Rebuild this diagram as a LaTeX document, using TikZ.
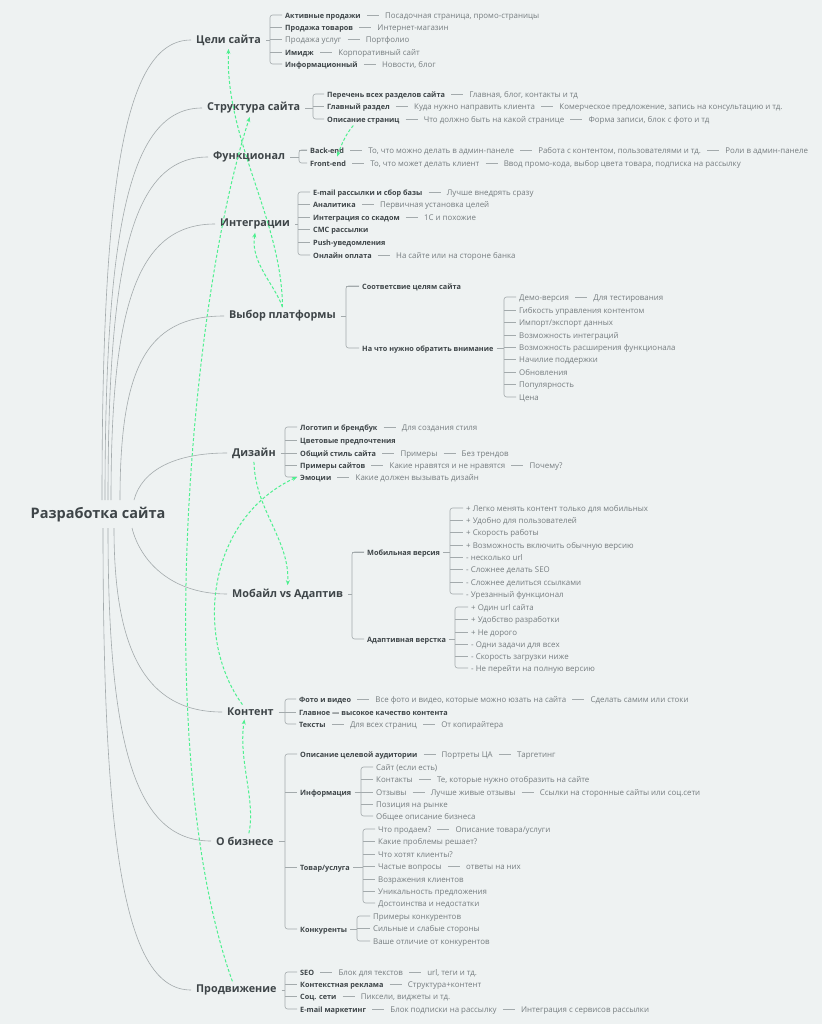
\documentclass[tikz,border=0pt]{standalone}
\usepackage{fontspec}
\setmainfont{Open Sans}
\usetikzlibrary{positioning,arrows.meta}

\definecolor{ink}{HTML}{3E4548}
\definecolor{soft}{HTML}{767D80}
\definecolor{wire}{HTML}{A3AAAC}
\definecolor{mint}{HTML}{4DF08F}
\definecolor{paper}{HTML}{EEF2F2}

\tikzset{
  root/.style={font=\bfseries\fontsize{14.5}{16}\selectfont, text=ink, inner sep=2pt},
  branch/.style={font=\bfseries\fontsize{10.8}{13}\selectfont, text=ink, inner xsep=5pt, anchor=west},
  item/.style={font=\bfseries\fontsize{7.3}{9}\selectfont, text=ink, inner xsep=3pt, inner ysep=1pt,
    text height=1.6ex, text depth=.4ex, anchor=west},
  leaf/.style={item, font=\fontsize{7.9}{9}\selectfont, text=soft},
  link/.style={draw=wire, line width=.6pt},
  sepline/.style={link, shorten <=3pt, shorten >=3pt},
  hint/.style={draw=mint, line width=1pt, dash pattern=on 3pt off 2pt, -{Stealth[length=5pt,width=4pt]}},
}

% parent, fork x, first child, last child, middle children
\newcommand\mmfork[5]{%
  \coordinate (f-#1) at (#2,0);
  \draw[link] (#1.east) -- (#1.east -| f-#1);
  \draw[link,rounded corners=2.5pt] (#3.west) -| (f-#1 |- #1.east) |- (#4.west);
  \foreach \m in {#5} {\draw[link] (f-#1 |- \m.west) -- (\m.west);}
}

\begin{document}
\begin{tikzpicture}[x=1pt, y=-1pt, node distance=18pt]
\useasboundingbox (0,0) rectangle (822,1024);
\fill[paper] (0,0) rectangle (822,1024);

% root and main branches
\node[root] (root) at (98,515) {Разработка сайта};
\node[branch] (b1) at (191,40) {Цели сайта};
\node[branch] (b2) at (202,108) {Структура сайта};
\node[branch] (b3) at (208,157) {Функционал};
\node[branch] (b4) at (215,224) {Интеграции};
\node[branch] (b5) at (224,316) {Выбор платформы};
\node[branch] (b6) at (227,453) {Дизайн};
\node[branch] (b7) at (227,594) {Мобайл vs Адаптив};
\node[branch] (b8) at (222,712) {Контент};
\node[branch] (b9) at (211,841) {О бизнесе};
\node[branch] (b10) at (191,990) {Продвижение};

\draw[link] (102,500) .. controls (102,178) and (125,40) .. (b1.west);
\draw[link] (105,500) .. controls (105,225) and (130,108) .. (b2.west);
\draw[link] (108,500) .. controls (108,260) and (132,157) .. (b3.west);
\draw[link] (111,500) .. controls (111,310) and (135,224) .. (b4.west);
\draw[link] (120,500) .. controls (120,370) and (145,316) .. (b5.west);
\draw[link] (134,500) .. controls (142,470) and (175,453) .. (b6.west);
\draw[link] (132,528) .. controls (140,560) and (170,594) .. (b7.west);
\draw[link] (114,528) .. controls (114,640) and (140,712) .. (b8.west);
\draw[link] (108,528) .. controls (108,745) and (135,841) .. (b9.west);
\draw[link] (103,528) .. controls (103,850) and (125,990) .. (b10.west);

% Цели сайта
\node[item] (c1) at (282,15) {Активные продажи};
\node[leaf, right=of c1] (c1a) {Посадочная страница, промо-страницы};
\node[item] (c2) at (282,27) {Продажа товаров};
\node[leaf, right=of c2] (c2a) {Интернет-магазин};
\node[leaf] (c3) at (282,39) {Продажа услуг};
\node[leaf, right=of c3] (c3a) {Портфолио};
\node[item] (c4) at (282,52) {Имидж};
\node[leaf, right=of c4] (c4a) {Корпоративный сайт};
\node[item] (c5) at (282,64) {Информационный};
\node[leaf, right=of c5] (c5a) {Новости, блог};
\draw[sepline] (c1) -- (c1a); \draw[sepline] (c2) -- (c2a); \draw[sepline] (c3) -- (c3a);
\draw[sepline] (c4) -- (c4a); \draw[sepline] (c5) -- (c5a);
\mmfork{b1}{270}{c1}{c5}{c2,c3,c4}

% Структура сайта
\node[item] (s1) at (324,94) {Перечень всех разделов сайта};
\node[leaf, right=of s1] (s1a) {Главная, блог, контакты и тд};
\node[item] (s2) at (324,106) {Главный раздел};
\node[leaf, right=of s2] (s2a) {Куда нужно направить клиента};
\node[leaf, right=of s2a] (s2b) {Комерческое предложение, запись на консультацию и тд.};
\node[item] (s3) at (324,119) {Описание страниц};
\node[leaf, right=of s3] (s3a) {Что должно быть на какой странице};
\node[leaf, right=of s3a] (s3b) {Форма записи, блок с фото и тд};
\draw[sepline] (s1) -- (s1a); \draw[sepline] (s2) -- (s2a); \draw[sepline] (s2a) -- (s2b);
\draw[sepline] (s3) -- (s3a); \draw[sepline] (s3a) -- (s3b);
\mmfork{b2}{313}{s1}{s3}{s2}

% Функционал
\node[item] (f1) at (307,150) {Back-end};
\node[leaf, right=of f1] (f1a) {То, что можно делать в админ-панеле};
\node[leaf, right=of f1a] (f1b) {Работа с контентом, пользователями и тд.};
\node[leaf, right=of f1b] (f1c) {Роли в админ-панеле};
\node[item] (f2) at (307,163) {Front-end};
\node[leaf, right=of f2] (f2a) {То, что может делать клиент};
\node[leaf, right=of f2a] (f2b) {Ввод промо-кода, выбор цвета товара, подписка на рассылку};
\draw[sepline] (f1) -- (f1a); \draw[sepline] (f1a) -- (f1b); \draw[sepline] (f1b) -- (f1c);
\draw[sepline] (f2) -- (f2a); \draw[sepline] (f2a) -- (f2b);
\mmfork{b3}{299}{f1}{f2}{f1}

% Интеграции
\node[item] (i1) at (310,192) {E-mail рассылки и сбор базы};
\node[leaf, right=of i1] (i1a) {Лучше внедрять сразу};
\node[item] (i2) at (310,204) {Аналитика};
\node[leaf, right=of i2] (i2a) {Первичная установка целей};
\node[item] (i3) at (310,217) {Интеграция со скадом};
\node[leaf, right=of i3] (i3a) {1С и похожие};
\node[item] (i4) at (310,229) {СМС рассылки};
\node[item] (i5) at (310,242) {Push-уведомления};
\node[item] (i6) at (310,255) {Онлайн оплата};
\node[leaf, right=of i6] (i6a) {На сайте или на стороне банка};
\draw[sepline] (i1) -- (i1a); \draw[sepline] (i2) -- (i2a); \draw[sepline] (i3) -- (i3a);
\draw[sepline] (i6) -- (i6a);
\mmfork{b4}{298}{i1}{i6}{i2,i3,i4,i5}

% Выбор платформы
\node[item] (p1) at (359,286) {Соответсвие целям сайта};
\node[item] (p2) at (359,348) {На что нужно обратить внимание};
\mmfork{b5}{346}{p1}{p2}{p1}
\node[leaf] (q1) at (516,297) {Демо-версия};
\node[leaf, right=of q1] (q1a) {Для тестирования};
\draw[sepline] (q1) -- (q1a);
\node[leaf] (q2) at (516,310) {Гибкость управления контентом};
\node[leaf] (q3) at (516,322) {Импорт/экспорт данных};
\node[leaf] (q4) at (516,335) {Возможность интеграций};
\node[leaf] (q5) at (516,347) {Возможность расширения функционала};
\node[leaf] (q6) at (516,359) {Начилие поддержки};
\node[leaf] (q7) at (516,372) {Обновления};
\node[leaf] (q8) at (516,384) {Популярность};
\node[leaf] (q9) at (516,397) {Цена};
\mmfork{p2}{504}{q1}{q9}{q2,q3,q4,q5,q6,q7,q8}

% Дизайн
\node[item] (d1) at (297,427) {Логотип и брендбук};
\node[leaf, right=of d1] (d1a) {Для создания стиля};
\node[item] (d2) at (297,440) {Цветовые предпочтения};
\node[item] (d3) at (297,453) {Общий стиль сайта};
\node[leaf, right=of d3] (d3a) {Примеры};
\node[leaf, right=of d3a] (d3b) {Без трендов};
\node[item] (d4) at (297,465) {Примеры сайтов};
\node[leaf, right=of d4] (d4a) {Какие нравятся и не нравятся};
\node[leaf, right=of d4a] (d4b) {Почему?};
\node[item] (d5) at (297,477) {Эмоции};
\node[leaf, right=of d5] (d5a) {Какие должен вызывать дизайн};
\draw[sepline] (d1) -- (d1a); \draw[sepline] (d3) -- (d3a); \draw[sepline] (d3a) -- (d3b);
\draw[sepline] (d4) -- (d4a); \draw[sepline] (d4a) -- (d4b); \draw[sepline] (d5) -- (d5a);
\mmfork{b6}{285}{d1}{d5}{d2,d3,d4}

% Мобайл vs Адаптив
\node[item] (m1) at (364,552) {Мобильная версия};
\node[item] (m2) at (364,639) {Адаптивная верстка};
\mmfork{b7}{352}{m1}{m2}{m1}
\node[leaf] (mm1) at (463,508) {+ Легко менять контент только для мобильных};
\node[leaf] (mm2) at (463,520) {+ Удобно для пользователей};
\node[leaf] (mm3) at (463,532) {+ Скорость работы};
\node[leaf] (mm4) at (463,545) {+ Возможность включить обычную версию};
\node[leaf] (mm5) at (463,557) {- несколько url};
\node[leaf] (mm6) at (463,569) {- Сложнее делать SEO};
\node[leaf] (mm7) at (463,582) {- Сложнее делиться ссылками};
\node[leaf] (mm8) at (463,594) {- Урезанный функционал};
\mmfork{m1}{450}{mm1}{mm8}{mm2,mm3,mm4,mm5,mm6,mm7}
\node[leaf] (ma1) at (468,607) {+ Один url сайта};
\node[leaf] (ma2) at (468,619) {+ Удобство разработки};
\node[leaf] (ma3) at (468,632) {+ Не дорого};
\node[leaf] (ma4) at (468,644) {- Одни задачи для всех};
\node[leaf] (ma5) at (468,656) {- Скорость загрузки ниже};
\node[leaf] (ma6) at (468,668) {- Не перейти на полную версию};
\mmfork{m2}{455}{ma1}{ma6}{ma2,ma3,ma4,ma5}

% Контент
\node[item] (k1) at (296,699) {Фото и видео};
\node[leaf, right=of k1] (k1a) {Все фото и видео, которые можно юзать на сайта};
\node[leaf, right=of k1a] (k1b) {Сделать самим или стоки};
\node[item] (k2) at (296,712) {Главное — высокое качество контента};
\node[item] (k3) at (296,724) {Тексты};
\node[leaf, right=of k3] (k3a) {Для всех страниц};
\node[leaf, right=of k3a] (k3b) {От копирайтера};
\draw[sepline] (k1) -- (k1a); \draw[sepline] (k1a) -- (k1b);
\draw[sepline] (k3) -- (k3a); \draw[sepline] (k3a) -- (k3b);
\mmfork{b8}{285}{k1}{k3}{k2}

% О бизнесе
\node[item] (o1) at (297,754) {Описание целевой аудитории};
\node[leaf, right=of o1] (o1a) {Портреты ЦА};
\node[leaf, right=of o1a] (o1b) {Таргетинг};
\draw[sepline] (o1) -- (o1a); \draw[sepline] (o1a) -- (o1b);
\node[item] (o2) at (297,792) {Информация};
\node[item] (o3) at (297,867) {Товар/услуга};
\node[item] (o4) at (297,929) {Конкуренты};
\mmfork{b9}{285}{o1}{o4}{o2,o3}
\node[leaf] (oi1) at (373,767) {Сайт (если есть)};
\node[leaf] (oi2) at (373,779) {Контакты};
\node[leaf, right=of oi2] (oi2a) {Те, которые нужно отобразить на сайте};
\node[leaf] (oi3) at (373,792) {Отзывы};
\node[leaf, right=of oi3] (oi3a) {Лучше живые отзывы};
\node[leaf, right=of oi3a] (oi3b) {Ссылки на сторонные сайты или соц.сети};
\node[leaf] (oi4) at (373,804) {Позиция на рынке};
\node[leaf] (oi5) at (373,816) {Общее описание бизнеса};
\draw[sepline] (oi2) -- (oi2a); \draw[sepline] (oi3) -- (oi3a); \draw[sepline] (oi3a) -- (oi3b);
\mmfork{o2}{361}{oi1}{oi5}{oi2,oi3,oi4}
\node[leaf] (ot1) at (375,829) {Что продаем?};
\node[leaf, right=of ot1] (ot1a) {Описание товара/услуги};
\node[leaf] (ot2) at (375,841) {Какие проблемы решает?};
\node[leaf] (ot3) at (375,854) {Что хотят клиенты?};
\node[leaf] (ot4) at (375,866) {Частые вопросы};
\node[leaf, right=of ot4] (ot4a) {ответы на них};
\node[leaf] (ot5) at (375,879) {Возражения клиентов};
\node[leaf] (ot6) at (375,891) {Уникальность предложения};
\node[leaf] (ot7) at (375,903) {Достоинства и недостатки};
\draw[sepline] (ot1) -- (ot1a); \draw[sepline] (ot4) -- (ot4a);
\mmfork{o3}{363}{ot1}{ot7}{ot2,ot3,ot4,ot5,ot6}
\node[leaf] (oc1) at (370,916) {Примеры конкурентов};
\node[leaf] (oc2) at (370,928) {Сильные и слабые стороны};
\node[leaf] (oc3) at (370,941) {Ваше отличие от конкурентов};
\mmfork{o4}{357}{oc1}{oc3}{oc2}

% Продвижение
\node[item] (r1) at (297,972) {SEO};
\node[leaf, right=of r1] (r1a) {Блок для текстов};
\node[leaf, right=of r1a] (r1b) {url, теги и тд.};
\node[item] (r2) at (297,984) {Контекстная реклама};
\node[leaf, right=of r2] (r2a) {Структура+контент};
\node[item] (r3) at (297,996) {Соц. сети};
\node[leaf, right=of r3] (r3a) {Пиксели, виджеты и тд.};
\node[item] (r4) at (297,1009) {E-mail маркетинг};
\node[leaf, right=of r4] (r4a) {Блок подписки на рассылку};
\node[leaf, right=of r4a] (r4b) {Интеграция с сервисов рассылки};
\draw[sepline] (r1) -- (r1a); \draw[sepline] (r1a) -- (r1b); \draw[sepline] (r2) -- (r2a);
\draw[sepline] (r3) -- (r3a); \draw[sepline] (r4) -- (r4a); \draw[sepline] (r4a) -- (r4b);
\mmfork{b10}{285}{r1}{r4}{r2,r3}

% green cross-links
\draw[hint] (b5.north) .. controls (282,220) and (225,140) .. (b1.south);
\draw[hint] (b5.north) .. controls (275,285) and (250,262) .. (b4.south);
\draw[hint] ([xshift=-4pt]b10.north) .. controls (150,750) and (190,300) .. ([xshift=-4pt]b2.south);
\draw[hint] ([xshift=4pt]b9.north) .. controls (256,800) and (238,760) .. ([xshift=-6pt]b8.south);
\draw[hint] (b6.south) .. controls (255,510) and (290,540) .. (b7.north);
\draw[hint] ([xshift=-8pt]b8.north) .. controls (195,640) and (205,520) .. (d5.west);
\draw[hint] ([xshift=-10pt]s3.south) .. controls (345,135) and (341,146) .. ([xshift=-10pt]f1.south east);
\end{tikzpicture}
\end{document}
